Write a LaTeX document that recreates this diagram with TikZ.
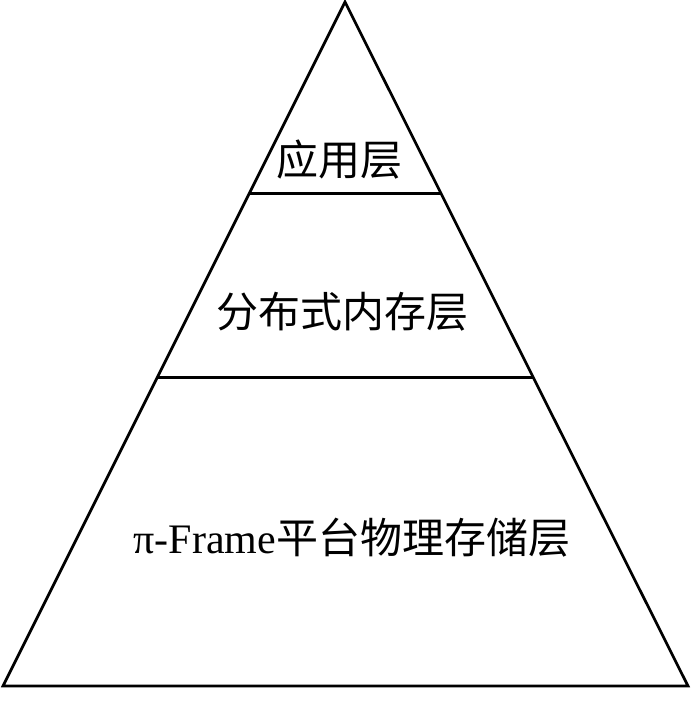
\documentclass[tikz,border=0pt]{standalone}
\usepackage{fontspec}
\setmainfont{Liberation Serif}
\newfontfamily\cjk{Noto Sans CJK SC}
\begin{document}
\begin{tikzpicture}[x=1pt,y=-1pt,
  edge/.style={line width=2.7pt,line join=miter,black},
  lbl/.style={font=\fontsize{42}{46}\selectfont, inner sep=0pt}]
\useasboundingbox (0,0) rectangle (700,701);
\coordinate (apex) at (345,2);
\coordinate (bl) at (3,686);
\coordinate (br) at (688,686);
\draw[edge] (apex) -- (br) -- (bl) -- cycle;
\coordinate (l1a) at (249,193.5);
\coordinate (l1b) at (441,193.5);
\coordinate (l2a) at (157,377.5);
\coordinate (l2b) at (533,377.5);
\draw[edge] (l1a) -- (l1b);
\draw[edge] (l2a) -- (l2b);
\node[lbl] (t1) at (339,160) {\cjk 应用层};
\node[lbl] (t2) at (342,312) {\cjk 分布式内存层};
\node[lbl] (t3) at (352,538) {π-Frame{\cjk 平台物理存储层}};
\end{tikzpicture}
\end{document}
